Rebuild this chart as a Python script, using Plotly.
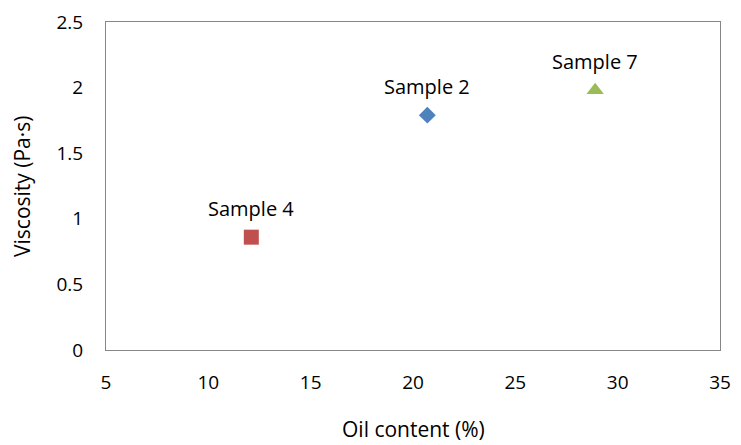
import plotly.graph_objects as go

samples = ["Sample 2", "Sample 4", "Sample 7"]
oil_content = [20.7, 12.1, 28.9]
viscosity = [1.79, 0.86, 1.98]
symbols = ["diamond", "square", "triangle-up"]
colors = ["#4F81BD", "#C0504D", "#9BBB59"]
sizes = [13, 15, 15]

x_ticks = [5, 10, 15, 20, 25, 30, 35]
y_ticks = [0, 0.5, 1, 1.5, 2, 2.5]

FONT = "Open Sans"
W, H = 741, 445
ML, MR, MT, MB = 106, 21, 22, 95
PW, PH = W - ML - MR, H - MT - MB

fig = go.Figure()
for name, x, y, s, c, sz in zip(samples, oil_content, viscosity, symbols, colors, sizes):
    fig.add_trace(go.Scatter(x=[x], y=[y], mode="markers", name=name,
                             marker=dict(symbol=s, color=c, size=sz, line=dict(width=0))))
    fig.add_annotation(x=x, y=y, text=name, showarrow=False, yshift=29,
                       font=dict(family=FONT, size=20, color="#000000"))

# axis titles
fig.add_annotation(xref="paper", yref="paper", x=0.5, y=-(429 - (H - MB)) / PH,
                   xanchor="center", yanchor="middle", showarrow=False,
                   text="Oil content (%)", font=dict(family=FONT, size=21, color="#000000"))
fig.add_annotation(xref="paper", yref="paper", x=-(ML - 22) / PW, y=0.5,
                   xanchor="center", yanchor="middle", showarrow=False, textangle=-90,
                   text="Viscosity (Pa·s)", font=dict(family=FONT, size=21, color="#000000"))

fig.update_layout(
    width=W, height=H,
    margin=dict(l=ML, r=MR, t=MT, b=MB),
    paper_bgcolor="white", plot_bgcolor="white",
    showlegend=False,
    font=dict(family=FONT, size=19, color="#000000"),
    xaxis=dict(range=[5, 35], tickvals=x_ticks, ticktext=[str(v) for v in x_ticks],
               showgrid=False, zeroline=False, showline=True, linecolor="#868686",
               linewidth=1, mirror=True, ticks="", ticklabelstandoff=15, automargin=False),
    yaxis=dict(range=[0, 2.5], tickvals=y_ticks, ticktext=["0", "0.5", "1", "1.5", "2", "2.5"],
               showgrid=False, zeroline=False, showline=True, linecolor="#868686",
               linewidth=1, mirror=True, ticks="", ticklabelstandoff=18, automargin=False),
)

fig.write_html("out.html", config={"displayModeBar": False},
               post_script="document.body.style.margin='0';")
